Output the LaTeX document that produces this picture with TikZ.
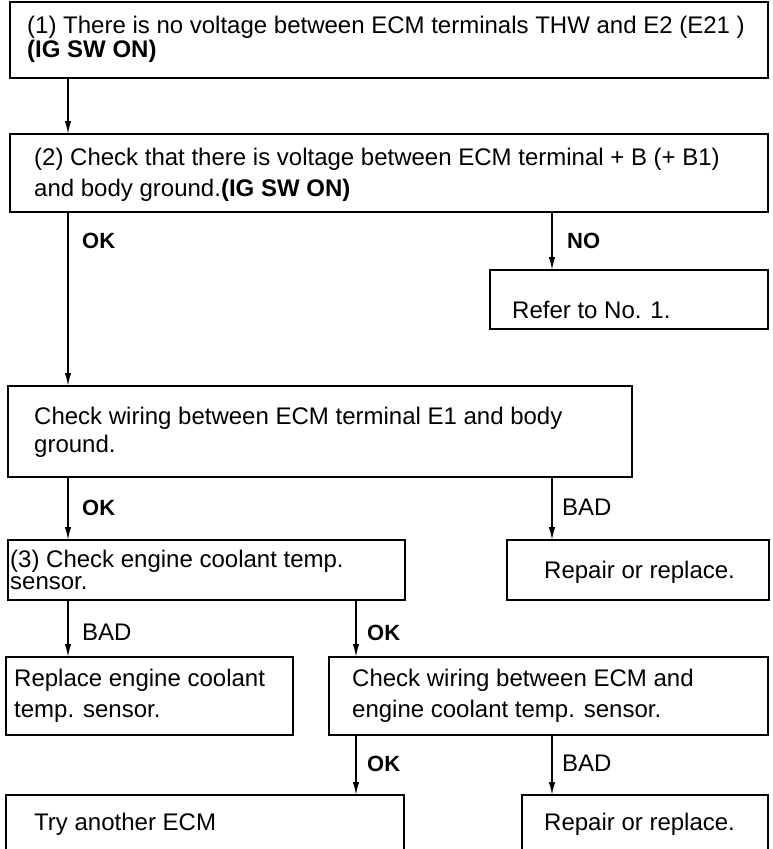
\documentclass[tikz,border=0pt]{standalone}
\usepackage{fontspec}
\setmainfont{Liberation Sans}
\usetikzlibrary{arrows.meta}
\begin{document}
\begin{tikzpicture}[x=1pt,y=-1pt,
  box/.style={draw, line width=2.2pt, rectangle, anchor=north west, inner sep=0pt, outer sep=0pt},
  txt/.style={anchor=base west, inner sep=0pt, font=\fontsize{24}{28}\selectfont},
  lbl/.style={anchor=base west, inner sep=0pt, font=\fontsize{22}{24}\selectfont\bfseries},
  lblr/.style={anchor=base west, inner sep=0pt, font=\fontsize{24}{28}\selectfont},
  arr/.style={line width=1.6pt, -{Latex[length=13pt,width=6.5pt]}}]
\clip (0,0) rectangle (772,849);
\fill[white] (0,0) rectangle (772,849);
% columns for connectors
\coordinate (cL) at (68,0);
\coordinate (cM) at (356,0);
\coordinate (cR) at (552,0);
% boxes
\node[box, minimum width=758pt, minimum height=76pt] (b1) at (10,2) {};
\node[box, minimum width=758pt, minimum height=78pt] (b2) at (10,134) {};
\node[box, minimum width=278pt, minimum height=59pt] (b3) at (490,270) {};
\node[box, minimum width=624pt, minimum height=91pt] (b4) at (8,386) {};
\node[box, minimum width=397pt, minimum height=60pt] (b5) at (8,540) {};
\node[box, minimum width=262pt, minimum height=60pt] (b6) at (507,540) {};
\node[box, minimum width=287pt, minimum height=78pt] (b7) at (6,657) {};
\node[box, minimum width=439pt, minimum height=78pt] (b8) at (329,657) {};
\node[box, minimum width=398pt, minimum height=80pt] (b9) at (6,795) {};
\node[box, minimum width=246pt, minimum height=80pt] (b10) at (522,795) {};
% texts
\node[txt] (t1a) at (27,33) {(1) There is no voltage between ECM terminals THW and E2 (E21 )};
\node[txt] (t1b) at (27,57) {\textbf{(IG SW ON)}};
\node[txt] (t2a) at (34,165) {(2) Check that there is voltage between ECM terminal + B (+ B1)};
\node[txt] (t2b) at (34,196) {and body ground.\textbf{(IG SW ON)}};
\node[txt] (t3) at (512,318) {Refer to No. 1.};
\node[txt] (t4a) at (34,424) {Check wiring between ECM terminal E1 and body};
\node[txt] (t4b) at (34,452) {ground.};
\node[txt] (t5a) at (10,567) {(3) Check engine coolant temp.};
\node[txt] (t5b) at (10,589) {sensor.};
\node[txt] (t6) at (544,578) {Repair or replace.};
\node[txt] (t7a) at (14,686) {Replace engine coolant};
\node[txt] (t7b) at (14,717) {temp. sensor.};
\node[txt] (t8a) at (352,686) {Check wiring between ECM and};
\node[txt] (t8b) at (352,717) {engine coolant temp. sensor.};
\node[txt] (t9) at (34,830) {Try another ECM};
\node[txt] (t10) at (544,830) {Repair or replace.};
% labels
\node[lbl] (l1) at (82,248) {OK};
\node[lbl] (l2) at (567,248) {NO};
\node[lbl] (l3) at (82,515) {OK};
\node[lblr] (l4) at (562,515) {BAD};
\node[lblr] (l5) at (82,640) {BAD};
\node[lbl] (l6) at (367,640) {OK};
\node[lbl] (l7) at (367,771) {OK};
\node[lblr] (l8) at (562,771) {BAD};
% connectors
\draw[arr] (b1.south -| cL) -- (b2.north -| cL);
\draw[arr] (b2.south -| cL) -- (b4.north -| cL);
\draw[arr] (b2.south -| cR) -- (b3.north -| cR);
\draw[arr] (b4.south -| cL) -- (b5.north -| cL);
\draw[arr] (b4.south -| cR) -- (b6.north -| cR);
\draw[arr] (b5.south -| cL) -- (b7.north -| cL);
\draw[arr] (b5.south -| cM) -- (b8.north -| cM);
\draw[arr] (b8.south -| cM) -- (b9.north -| cM);
\draw[arr] (b8.south -| cR) -- (b10.north -| cR);
\end{tikzpicture}
\end{document}
